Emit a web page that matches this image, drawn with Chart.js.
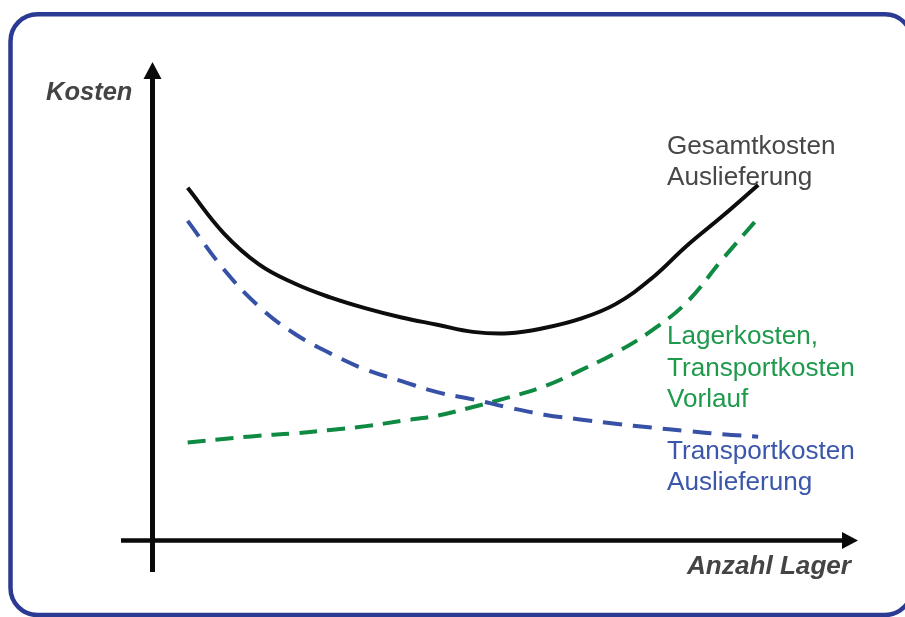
<!DOCTYPE html>
<html lang="de">
<head>
<meta charset="utf-8">
<title>Kosten und Anzahl Lager</title>
<script src="https://cdn.jsdelivr.net/npm/chart.js@4/dist/chart.umd.min.js"></script>
<style>
  html, body { margin: 0; padding: 0; background: #ffffff; }
  canvas { display: block; }
</style>
</head>
<body>
<canvas id="chart" width="905" height="617"></canvas>
<script>
// Anzahl Lager (schematic units along the x axis)
const anzahlLager = [1, 2, 3, 4, 5, 6, 7, 8, 9, 10, 11, 12, 13, 14, 15, 16, 17];

// Gesamtkosten Auslieferung
const gesamtkosten = [7.37, 6.43, 5.77, 5.37, 5.08, 4.85, 4.66, 4.51, 4.36, 4.33, 4.44, 4.63, 4.94, 5.47, 6.16, 6.78, 7.43];

// Transportkosten Auslieferung
const transportAuslieferung = [6.68, 5.68, 4.89, 4.32, 3.91, 3.57, 3.33, 3.10, 2.95, 2.78, 2.63, 2.53, 2.44, 2.36, 2.29, 2.22, 2.17];

// Lagerkosten, Transportkosten Vorlauf
const lagerVorlauf = [2.05, 2.12, 2.19, 2.24, 2.31, 2.39, 2.50, 2.61, 2.79, 2.99, 3.22, 3.55, 3.92, 4.38, 4.98, 5.88, 6.74];

// Text labels
const yAxisTitle = 'Kosten';
const xAxisTitle = 'Anzahl Lager';
const labelGesamt = ['Gesamtkosten', 'Auslieferung'];
const labelVorlauf = ['Lagerkosten,', 'Transportkosten', 'Vorlauf'];
const labelAuslieferung = ['Transportkosten', 'Auslieferung'];

const toPoints = (ys) => ys.map((y, i) => ({ x: anzahlLager[i], y }));

const FONT = '"Liberation Sans", Arial, Helvetica, sans-serif';

function roundRect(ctx, x, y, w, h, r) {
  ctx.beginPath();
  ctx.moveTo(x + r, y);
  ctx.lineTo(x + w - r, y);
  ctx.arcTo(x + w, y, x + w, y + r, r);
  ctx.lineTo(x + w, y + h - r);
  ctx.arcTo(x + w, y + h, x + w - r, y + h, r);
  ctx.lineTo(x + r, y + h);
  ctx.arcTo(x, y + h, x, y + h - r, r);
  ctx.lineTo(x, y + r);
  ctx.arcTo(x, y, x + r, y, r);
  ctx.closePath();
}

// Frame and the two arrow axes, drawn beneath the curves
const framePlugin = {
  id: 'frameAndAxes',
  beforeDatasetsDraw(chart) {
    const { ctx, chartArea } = chart;
    const ox = chartArea.left + 0.5;
    const oy = chartArea.bottom;
    ctx.save();

    // rounded blue frame
    ctx.strokeStyle = '#2b3a92';
    ctx.lineWidth = 4.5;
    roundRect(ctx, 10.5, 14.3, 901.5, 600.7, 27);
    ctx.stroke();

    ctx.strokeStyle = '#0a0a0a';
    ctx.fillStyle = '#0a0a0a';
    ctx.lineCap = 'butt';

    // y axis
    ctx.lineWidth = 5;
    ctx.beginPath();
    ctx.moveTo(ox, oy + 31.5);
    ctx.lineTo(ox, chartArea.top + 14);
    ctx.stroke();
    ctx.beginPath();
    ctx.moveTo(ox, chartArea.top);
    ctx.lineTo(ox - 9, chartArea.top + 17);
    ctx.lineTo(ox + 9, chartArea.top + 17);
    ctx.closePath();
    ctx.fill();

    // x axis
    ctx.lineWidth = 4.5;
    ctx.beginPath();
    ctx.moveTo(ox - 31.5, oy);
    ctx.lineTo(chartArea.right - 14, oy);
    ctx.stroke();
    ctx.beginPath();
    ctx.moveTo(chartArea.right, oy);
    ctx.lineTo(chartArea.right - 16, oy - 8.5);
    ctx.lineTo(chartArea.right - 16, oy + 8.5);
    ctx.closePath();
    ctx.fill();

    ctx.restore();
  }
};

// Axis titles and curve captions (slightly widened lettering)
const textPlugin = {
  id: 'captions',
  afterDraw(chart) {
    const { ctx } = chart;
    ctx.save();
    ctx.textBaseline = 'alphabetic';
    ctx.textAlign = 'left';

    const wide = (text, x, y, sx) => {
      ctx.save();
      ctx.translate(x, y);
      ctx.scale(sx, 1);
      ctx.fillText(text, 0, 0);
      ctx.restore();
    };

    ctx.fillStyle = '#444444';
    ctx.font = 'italic bold 25px ' + FONT;
    wide(yAxisTitle, 46, 100, 1.02);
    wide(xAxisTitle, 687, 574, 1.045);

    ctx.font = '25px ' + FONT;
    const block = (lines, x, y0, step, color) => {
      ctx.fillStyle = color;
      lines.forEach((t, i) => wide(t, x, y0 + i * step, 1.045));
    };
    block(labelGesamt, 667, 154, 31, '#474747');
    block(labelVorlauf, 667, 344, 31.5, '#1e9a4c');
    block(labelAuslieferung, 667, 459, 31, '#3b56aa');

    ctx.restore();
  }
};

new Chart(document.getElementById('chart'), {
  type: 'line',
  data: {
    datasets: [
      {
        label: 'Gesamtkosten Auslieferung',
        data: toPoints(gesamtkosten),
        borderColor: '#0d0d0d',
        borderWidth: 4,
        borderCapStyle: 'butt',
        borderJoinStyle: 'round'
      },
      {
        label: 'Transportkosten Auslieferung',
        data: toPoints(transportAuslieferung),
        borderColor: '#3651a6',
        borderWidth: 4,
        borderDash: [19, 11],
        borderCapStyle: 'butt'
      },
      {
        label: 'Lagerkosten, Transportkosten Vorlauf',
        data: toPoints(lagerVorlauf),
        borderColor: '#0f8a43',
        borderWidth: 4,
        borderDash: [18, 10],
        borderCapStyle: 'butt'
      }
    ]
  },
  options: {
    responsive: false,
    animation: false,
    devicePixelRatio: 1,
    layout: { padding: { left: 152, right: 47, top: 62, bottom: 76.5 } },
    elements: {
      point: { radius: 0, hoverRadius: 0 },
      line: { tension: 0.4, fill: false }
    },
    scales: {
      x: { type: 'linear', display: false, min: 0, max: 19.8 },
      y: { type: 'linear', display: false, min: 0, max: 10 }
    },
    plugins: {
      legend: { display: false },
      tooltip: { enabled: false },
      title: { display: false }
    }
  },
  plugins: [framePlugin, textPlugin]
});
</script>
</body>
</html>
